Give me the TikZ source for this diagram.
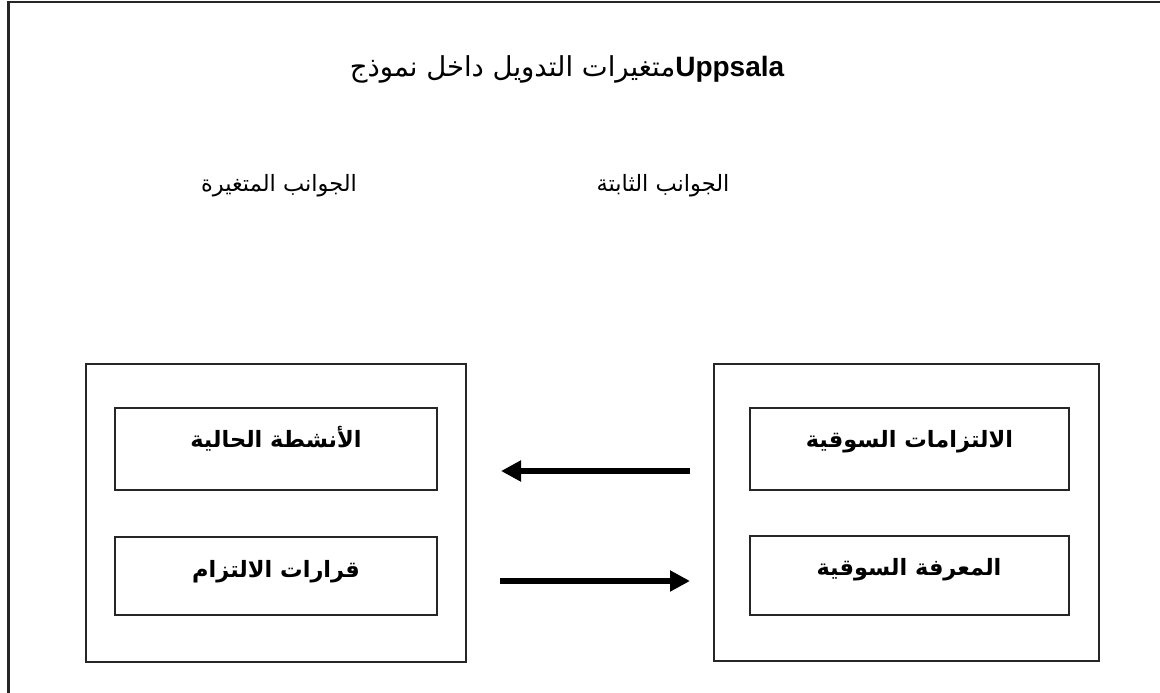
\documentclass[tikz,border=0pt]{standalone}
\usepackage{fontspec}
\setmainfont{Liberation Sans}
\newfontfamily\arabicfont[Script=Arabic]{DejaVu Sans}
\TeXXeTstate=1
\usetikzlibrary{arrows.meta}

\tikzset{
  frame/.style={line width=2.4pt, draw=black!85},
  outerbox/.style={draw=black!85, line width=1.7pt, minimum width=#1, minimum height=297pt, inner sep=0pt},
  innerbox/.style={draw=black!85, line width=1.7pt, minimum width=#1, inner sep=0pt},
  title/.style={anchor=base, inner sep=0pt},
  heading/.style={anchor=base, inner sep=0pt, font=\arabicfont\fontsize{22.5pt}{26pt}\selectfont},
  boxlabel/.style={anchor=base, inner sep=0pt, font=\arabicfont\bfseries\fontsize{22.5pt}{26pt}\selectfont},
  flow/.style={line width=6.5pt, -{Triangle[length=20pt, width=20pt]}},
}

\begin{document}
\begin{tikzpicture}[x=1pt, y=-1pt]
  \useasboundingbox (0,0) rectangle (1160,693);

  % page frame, open towards the right and the bottom
  \coordinate (fbl) at (8.3,693);
  \coordinate (ftl) at (8.3,2.2);
  \coordinate (ftr) at (1160,2.2);
  \draw[frame] (fbl) -- (ftl) -- (ftr);

  % title
  \node[title] (ttl) at (567,77)
    {\arabicfont\fontsize{27.5pt}{31pt}\selectfont\beginR متغيرات التدويل داخل نموذج\endR\fontspec{Liberation Sans}\bfseries\fontsize{28pt}{31pt}\selectfont Uppsala};

  % column headings
  \node[heading] (hvar) at (279,191) {\beginR الجوانب المتغيرة\endR};
  \node[heading] (hfix) at (663,191) {\beginR الجوانب الثابتة\endR};

  % outer containers
  \node[outerbox=380pt, minimum height=298pt] (left)  at (276,513) {};
  \node[outerbox=385pt] (right) at (906.5,512.5) {};

  % inner boxes, variable aspects
  \node[innerbox=322pt, minimum height=82pt] (act) at (276,449) {};
  \node[innerbox=322pt, minimum height=78pt] (dec) at (276,576) {};
  % inner boxes, state aspects
  \node[innerbox=319pt, minimum height=82pt] (com) at (909.5,449) {};
  \node[innerbox=319pt, minimum height=79pt] (kno) at (909.5,575.5) {};

  \node[boxlabel] (tact) at (276,447) {\beginR الأنشطة الحالية\endR};
  \node[boxlabel] (tdec) at (276,577) {\beginR قرارات الالتزام\endR};
  \node[boxlabel] (tcom) at (909.5,447) {\beginR الالتزامات السوقية\endR};
  \node[boxlabel] (tkno) at (909,575) {\beginR المعرفة السوقية\endR};

  % arrows between the two containers
  \coordinate (a1s) at (690,471);
  \coordinate (a1e) at (501,471);
  \coordinate (a2s) at (500,581);
  \coordinate (a2e) at (690,581);
  \draw[flow] (a1s) -- (a1e);
  \draw[flow] (a2s) -- (a2e);
\end{tikzpicture}
\end{document}
